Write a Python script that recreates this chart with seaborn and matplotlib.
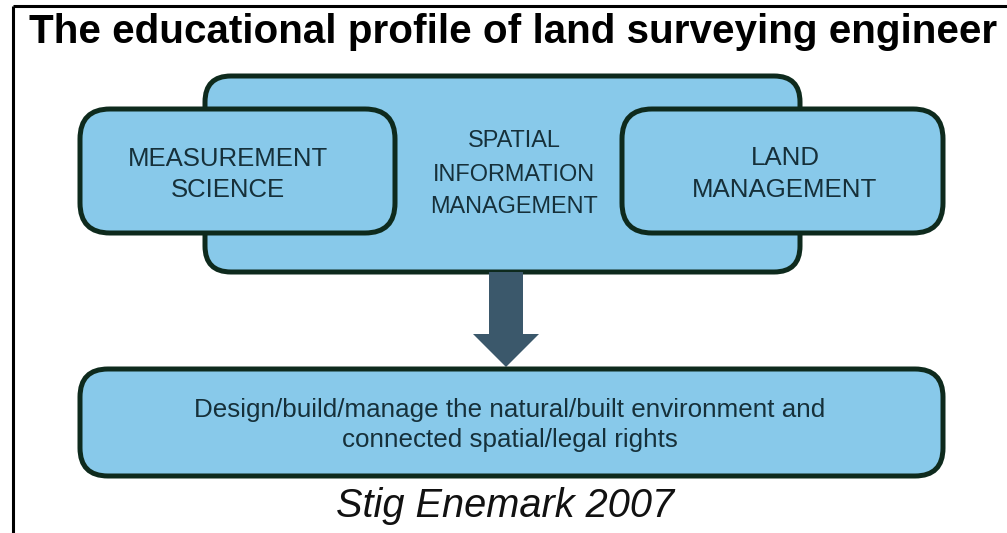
import matplotlib
matplotlib.use("Agg")
import matplotlib.pyplot as plt
import seaborn as sns
from matplotlib.patches import FancyBboxPatch, Polygon
from matplotlib import font_manager

# ---- content ----
title = "The educational profile of land surveying engineer"
center_label = ["SPATIAL", "INFORMATION", "MANAGEMENT"]
left_label = ["MEASUREMENT", "SCIENCE"]
right_label = ["LAND", "MANAGEMENT"]
bottom_label = ["Design/build/manage the natural/built environment and",
                "connected spatial/legal rights"]
credit = "Stig Enemark 2007"

sns.set_theme(style="white")

def pick(fams):
    for f in fams:
        try:
            font_manager.findfont(font_manager.FontProperties(family=f), fallback_to_default=False)
            return f
        except Exception:
            pass
    return "DejaVu Sans"

BODY = pick(["Liberation Sans", "Arial", "DejaVu Sans"])
NARROW = pick(["Liberation Sans Narrow", "Liberation Sans", "DejaVu Sans"])
plt.rcParams["font.family"] = [BODY, "DejaVu Sans"]

FILL = "#88c9ea"
EDGE = "#0e2a1d"
TXT = "#16303a"
ARROW = "#3b586b"

W, H = 1007, 533
fig = plt.figure(figsize=(W / 100, H / 100), dpi=100)
ax = fig.add_axes([0, 0, 1, 1])
ax.set_xlim(0, W)
ax.set_ylim(H, 0)
ax.axis("off")
fig.patch.set_facecolor("white")

# frame lines (left and top)
ax.plot([13, 13], [6, H], color="black", lw=2.2, solid_capstyle="butt", zorder=1)
ax.plot([13, W], [6, 6], color="black", lw=2.2, solid_capstyle="butt", zorder=1)

def box(x0, y0, x1, y1, r, z):
    p = FancyBboxPatch((x0, y0), x1 - x0, y1 - y0,
                       boxstyle=f"round,pad=0,rounding_size={r}",
                       fc=FILL, ec=EDGE, lw=3.6, zorder=z)
    ax.add_patch(p)

box(205, 76, 800, 272, 26, 2)     # central
box(80, 109, 395, 233, 30, 3)     # left
box(622, 109, 943, 233, 30, 3)    # right
box(80, 369, 943, 476, 28, 3)     # bottom

# arrow
arrow = Polygon([(489, 272), (523, 272), (523, 334), (539, 334),
                 (506, 367), (473, 334), (489, 334)],
                closed=True, fc=ARROW, ec="none", zorder=2.5)
ax.add_patch(arrow)

fig.canvas.draw()
renderer = fig.canvas.get_renderer()

def fitted(lines, cx, baselines, target_w, family, weight="normal", style="normal", color=TXT, z=5):
    # size chosen so the widest line spans target_w pixels
    probe = [ax.text(0, 0, s, fontsize=20, family=family, weight=weight, style=style) for s in lines]
    widths = [t.get_window_extent(renderer).width for t in probe]
    for t in probe:
        t.remove()
    fs = 20 * target_w / max(widths)
    for s, b in zip(lines, baselines):
        ax.text(cx, b, s, fontsize=fs, family=family, weight=weight, style=style,
                color=color, ha="center", va="baseline", zorder=z)

fitted([title], 513, [43], 967, [NARROW, "DejaVu Sans"], weight="bold", color="black")
fitted(left_label, 228, [166, 197], 200, [BODY])
fitted(center_label, 514, [147, 181, 213], 168, [BODY])
fitted(right_label, 785, [165, 197], 185, [BODY])
fitted(bottom_label, 510, [417, 447], 630, [BODY])
fitted([credit], 505, [517], 337, [BODY], style="italic", color="#111111")

fig.savefig("out.png", dpi=100, facecolor="white")
